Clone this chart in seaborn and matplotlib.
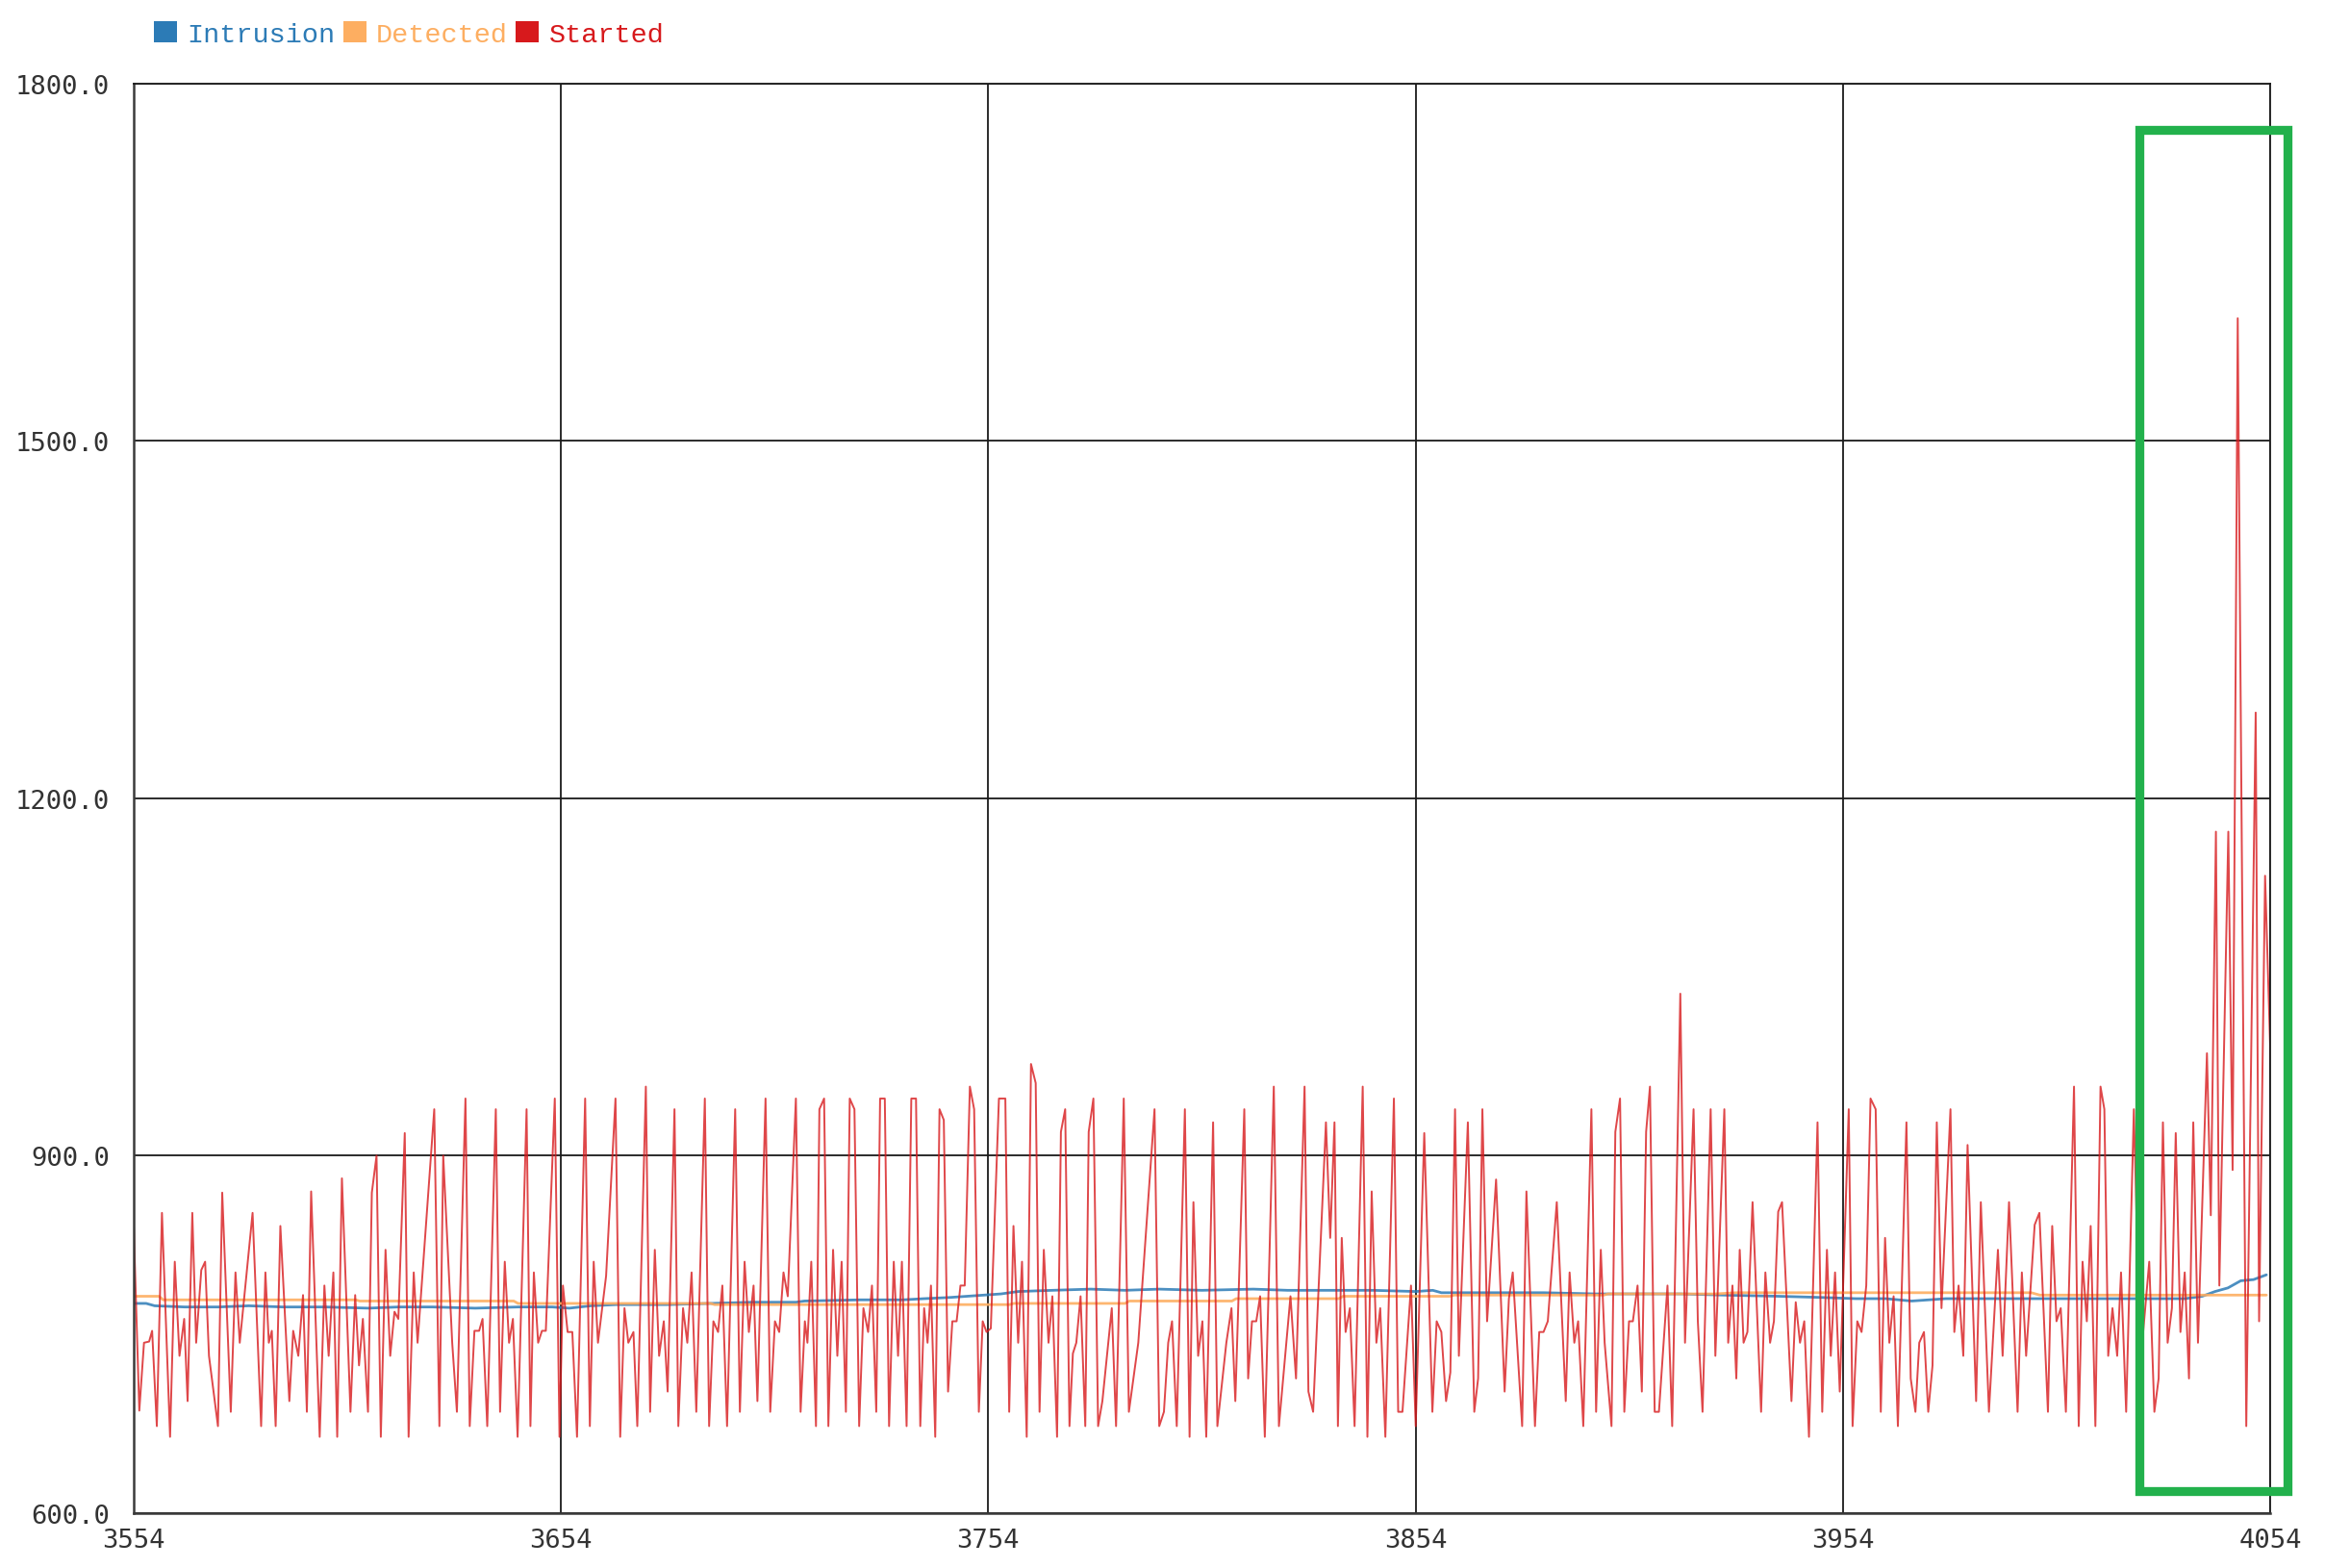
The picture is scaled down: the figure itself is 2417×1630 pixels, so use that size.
import matplotlib
matplotlib.use("Agg")
import matplotlib.pyplot as plt
from matplotlib.patches import Rectangle, Patch
import pandas as pd
import seaborn as sns

# serial plotter capture, samples 3554..4054
x_start = 3554
x_ticks = [3554, 3654, 3754, 3854, 3954, 4054]
y_ticks = [600.0, 900.0, 1200.0, 1500.0, 1800.0]
names = ["Intrusion", "Detected", "Started"]
colors = ["#2c7bb6", "#fdae61", "#d7191c"]

# sample offsets / values (line vertices)
intrusion_t = [0, 3, 5, 12, 20, 27, 35, 45, 55, 62, 70, 80, 90, 98, 102, 107, 113, 125, 135, 145,
               155, 157, 170, 180, 185, 191, 195, 199, 203, 207, 215, 224, 232, 240, 250, 262, 270,
               290, 300, 304, 306, 330, 342, 362, 372, 385, 395, 403, 410, 416, 420, 424, 480, 484,
               487, 490, 493, 496, 499]
intrusion_v = [776, 776, 774, 773, 773, 774, 773, 773, 772, 773, 773, 772, 773, 773, 772, 774, 775,
               775, 776, 777, 777, 778, 779, 779, 780, 781, 782, 783, 784, 786, 787, 788, 787, 788,
               787, 788, 787, 787, 786, 787, 785, 785, 784, 784, 783, 782, 781, 780, 780, 778, 779,
               780, 780, 782, 786, 789, 795, 796, 800]

detected_t = [0, 6, 7, 52, 53, 89, 90, 135, 136, 205, 206, 232, 233, 257, 258, 282, 283, 308, 309,
              344, 345, 370, 375, 444, 446, 499]
detected_v = [782, 782, 779, 779, 778, 778, 776, 776, 775, 775, 776, 776, 778, 778, 780, 780, 782,
              782, 783, 783, 784, 784, 785, 785, 783, 783]

started_t = [
    0, 1.4, 2.5, 3.7, 4.4, 5.5, 6.7, 8.6, 9.7, 10.8, 11.9, 12.7, 13.8, 14.7, 15.9, 16.8, 17.7, 19.8,
    20.8, 22.8, 23.9, 24.9, 27.9, 29.9, 30.9, 31.7, 32.4, 33.3, 34.4, 36.5, 37.4, 38.6, 39.7, 40.6,
    41.6, 43.6, 44.7, 45.7, 46.8, 47.7, 48.8, 50.8, 51.9, 52.8, 53.7, 54.9, 55.8, 56.9, 57.9, 59.0,
    60.1, 61.1, 62.0, 63.5, 64.4, 65.6, 66.5, 70.4, 71.6, 72.5, 74.6, 75.7, 77.7, 78.7, 79.8, 80.9,
    81.7, 82.8, 84.8, 85.8, 86.9, 87.9, 88.8, 89.9, 92.0, 92.9, 93.7, 94.7, 95.6, 96.5, 98.6,
    99.7, 100.5, 101.6, 102.7, 103.8, 105.7, 106.8, 107.7, 108.7, 110.6, 112.8, 113.9, 114.9, 115.8,
    117.0, 117.9, 119.9, 120.9, 122.0, 123.0, 124.1, 125.0, 126.6, 127.5, 128.6, 129.6, 130.6, 131.7,
    133.7, 134.7, 135.7, 136.8, 137.8, 138.9, 140.8, 141.9, 143.0, 144.0, 145.1, 146.0, 147.9, 149.0,
    150.1, 151.1, 152.1, 153.1, 155.0, 156.1, 157.1, 157.7, 158.6, 159.7, 160.5, 161.6, 162.6, 163.7,
    164.7, 165.7, 166.7, 167.6, 168.7, 169.8, 170.8, 171.9, 172.8, 173.8, 174.7, 175.8, 176.8, 177.9,
    178.9, 179.8, 180.9, 182.0, 183.1, 184.1, 185.0, 185.8, 186.6, 187.6, 188.6, 189.6, 190.6, 191.6,
    192.6, 193.5, 194.5, 195.7, 196.7, 197.8, 198.7, 199.6, 200.6, 202.5, 204.0, 204.9, 205.9, 207.0,
    207.9, 209.0, 210.0, 211.1, 212.0, 213.0, 214.1, 215.0, 216.1, 217.0, 218.0, 219.0, 219.8, 220.6,
    221.6, 222.7, 223.5, 224.6, 225.7, 226.7, 228.9, 229.9, 231.7, 232.9, 235.1, 238.9, 240.0, 241.1,
    242.1, 243.0, 244.1, 246.0, 247.1, 248.0, 249.1, 250.1, 251.0, 252.6, 253.6, 255.7, 256.9, 257.8,
    259.9, 260.8, 261.7, 262.7, 263.6, 264.7, 266.8, 268.0, 270.7, 272.0, 274.0, 274.9, 276.0, 279.0,
    280.0, 281.0, 281.8, 282.7, 283.6, 284.6, 285.7, 287.6, 288.7, 289.7, 290.8, 291.7, 292.9, 294.9,
    295.9, 296.9, 298.9, 300.0, 302.0, 303.9, 304.9, 306.0, 307.1, 308.1, 309.2, 310.1, 312.2, 313.7,
    314.6, 315.6, 316.7, 318.8, 320.8, 321.8, 322.7, 324.9, 325.9, 327.9, 328.9, 329.9, 330.9, 333.0,
    335.1, 336.0, 337.1, 338.0, 339.2, 341.1, 342.2, 343.3, 344.2, 345.8, 346.7, 347.8, 348.8, 349.9,
    350.8, 351.9, 352.9, 353.9, 354.8, 355.9, 356.9, 358.9, 360.0, 361.9, 363.0, 365.0, 366.0, 367.1,
    369.0, 370.1, 372.2, 373.1, 374.1, 375.0, 375.8, 376.7, 377.6, 378.8, 380.8, 381.8, 382.9, 383.8,
    384.8, 385.7, 387.9, 388.9, 389.9, 390.9, 392.0, 394.0, 395.1, 396.2, 397.1, 398.1, 399.2, 401.3,
    402.2, 403.3, 404.3, 405.4, 406.4, 407.6, 408.8, 409.8, 410.8, 411.8, 412.8, 414.8, 415.8, 416.9,
    417.8, 418.9, 419.9, 420.9, 421.9, 423.0, 425.1, 426.0, 427.0, 428.1, 429.1, 431.1, 432.2, 434.1,
    436.2, 437.3, 438.8, 440.8, 441.8, 442.8, 444.8, 445.9, 447.9, 448.9, 449.9, 450.9, 452.1, 454.0,
    455.1, 456.0, 457.0, 457.9, 459.0, 460.2, 461.1, 462.0, 463.0, 464.1, 465.0, 466.2, 468.0, 469.5,
    471.6, 472.8, 473.8, 474.8, 475.9, 476.9, 477.8, 478.9, 479.9, 480.9, 481.9, 483.0, 485.1, 486.0,
    487.2, 488.0, 490.1, 491.1, 492.3, 494.3, 496.5, 497.3, 498.7, 500.0]
started_v = [
    852, 686, 743, 744, 753, 673, 852, 664, 811, 732, 763, 694, 852, 743, 804, 811, 732, 673,
    869, 685, 802, 743, 852, 673, 802, 743, 753, 673, 841, 694, 753, 732, 783, 685,
    870, 664, 791, 732, 802, 664, 881, 685, 783, 724, 763, 685, 869, 900, 664, 821,
    732, 769, 763, 919, 664, 802, 743, 939, 673, 900, 743, 685, 948, 673, 753, 753,
    763, 673, 939, 685, 811, 743, 763, 664, 939, 673, 802, 743, 753, 753, 948,
    664, 791, 752, 752, 664, 948, 673, 811, 743, 799, 948, 664, 772, 743,
    752, 673, 958, 685, 821, 732, 761, 702, 939, 673, 772, 743, 802, 685,
    948, 673, 761, 752, 791, 673, 939, 685, 811, 752, 791, 694, 948, 685,
    761, 752, 802, 782, 948, 685, 761, 743, 811, 673, 939, 948, 673, 821,
    732, 811, 685, 948, 939, 673, 772, 752, 791, 685, 948, 948, 673, 811,
    732, 811, 673, 948, 948, 673, 772, 743, 791, 664, 939, 930, 702, 761,
    761, 791, 791, 958, 939, 685, 761, 752, 755, 948, 948, 685, 841, 743,
    811, 664, 977, 961, 685, 821, 743, 782, 664, 920, 939, 673, 734, 743,
    782, 673, 920, 948, 673, 694, 772, 673, 948, 685, 743, 939, 673, 685,
    743, 761, 673, 939, 664, 861, 732, 761, 664, 928, 673, 743, 772, 694,
    939, 713, 761, 761, 782, 664, 958, 673, 782, 713, 958, 702, 685, 928,
    831, 928, 673, 831, 752, 772, 673, 958, 664, 870, 743, 772, 664, 948,
    685, 685, 791, 673, 919, 685, 761, 752, 694, 718, 939, 732, 928, 685,
    713, 939, 761, 880, 702, 780, 802, 673, 870, 673, 752, 752, 761, 861,
    694, 802, 743, 761, 673, 939, 685, 821, 743, 673, 920, 948, 685, 761,
    761, 791, 702, 920, 958, 685, 685, 791, 673, 1036, 743, 939, 761, 685,
    939, 732, 939, 743, 791, 713, 821, 743, 752, 861, 685, 802, 743, 761,
    853, 861, 694, 777, 743, 761, 664, 928, 685, 821, 732, 802, 702, 939,
    673, 761, 752, 791, 948, 939, 685, 831, 743, 782, 673, 928, 713, 685,
    743, 752, 685, 724, 928, 772, 939, 752, 791, 732, 909, 694, 861, 685,
    821, 732, 861, 685, 802, 732, 842, 852, 685, 841, 761, 772, 685, 958,
    673, 811, 761, 841, 673, 958, 939, 732, 772, 732, 802, 685, 939, 724,
    811, 685, 713, 928, 743, 772, 919, 752, 802, 713, 928, 743, 986, 850,
    1172, 791, 1172, 888, 1603, 673, 1272, 761, 1135, 978]

frames = [
    pd.DataFrame({"sample": [x_start + t for t in intrusion_t], "value": intrusion_v}),
    pd.DataFrame({"sample": [x_start + t for t in detected_t], "value": detected_v}),
    pd.DataFrame({"sample": [x_start + t for t in started_t], "value": started_v}),
]

sns.set_style("white")
plt.rcParams["font.family"] = ["DejaVu Sans Mono", "DejaVu Sans"]

fig = plt.figure(figsize=(24.17, 16.31), dpi=100)
ax = fig.add_axes([0.05734, 0.03501, 0.91928, 0.9111])

widths = [2.0, 2.0, 1.4]
alphas = [0.85, 0.9, 0.8]
for df, c, lw, a in zip(frames, colors, widths, alphas):
    sns.lineplot(data=df, x="sample", y="value", ax=ax, color=c, linewidth=lw,
                 alpha=a, estimator=None, sort=False)

ax.set_xlim(x_ticks[0], x_ticks[-1])
ax.set_ylim(y_ticks[0], y_ticks[-1])
ax.set_xticks(x_ticks)
ax.set_yticks(y_ticks)
ax.set_yticklabels([f"{v:.1f}" for v in y_ticks])
ax.set_xlabel("")
ax.set_ylabel("")
ax.grid(True, color="#1a1a1a", linewidth=1.3)
ax.set_axisbelow(True)

for side in ["left", "bottom"]:
    ax.spines[side].set_color("#3a3a3a")
    ax.spines[side].set_linewidth(1.8)
for side in ["top", "right"]:
    ax.spines[side].set_color("#1a1a1a")
    ax.spines[side].set_linewidth(1.3)

ax.tick_params(axis="both", direction="out", length=8.5, width=1.3, color="#333333",
               labelsize=19.5, labelcolor="#333333")
ax.tick_params(axis="y", pad=9)
ax.tick_params(axis="x", pad=2.5)

handles = [Patch(facecolor=c, edgecolor="none") for c in colors]
leg = fig.legend(handles, names, loc="center left", bbox_to_anchor=(0.0661, 0.9775),
                 ncol=3, frameon=False, borderpad=0, borderaxespad=0,
                 handlelength=0.84, handleheight=0.78, handletextpad=0.36,
                 columnspacing=0.3, prop={"family": "Liberation Mono", "size": 20.5})
for txt, c in zip(leg.get_texts(), colors):
    txt.set_color(c)

# green highlight box around the last samples
fig.add_artist(Rectangle((0.9200, 0.0490), 0.0638, 0.8679, transform=fig.transFigure,
                         fill=False, edgecolor="#22b14c", linewidth=6.7, joinstyle="miter"))

fig.savefig("out.png", dpi=100)
